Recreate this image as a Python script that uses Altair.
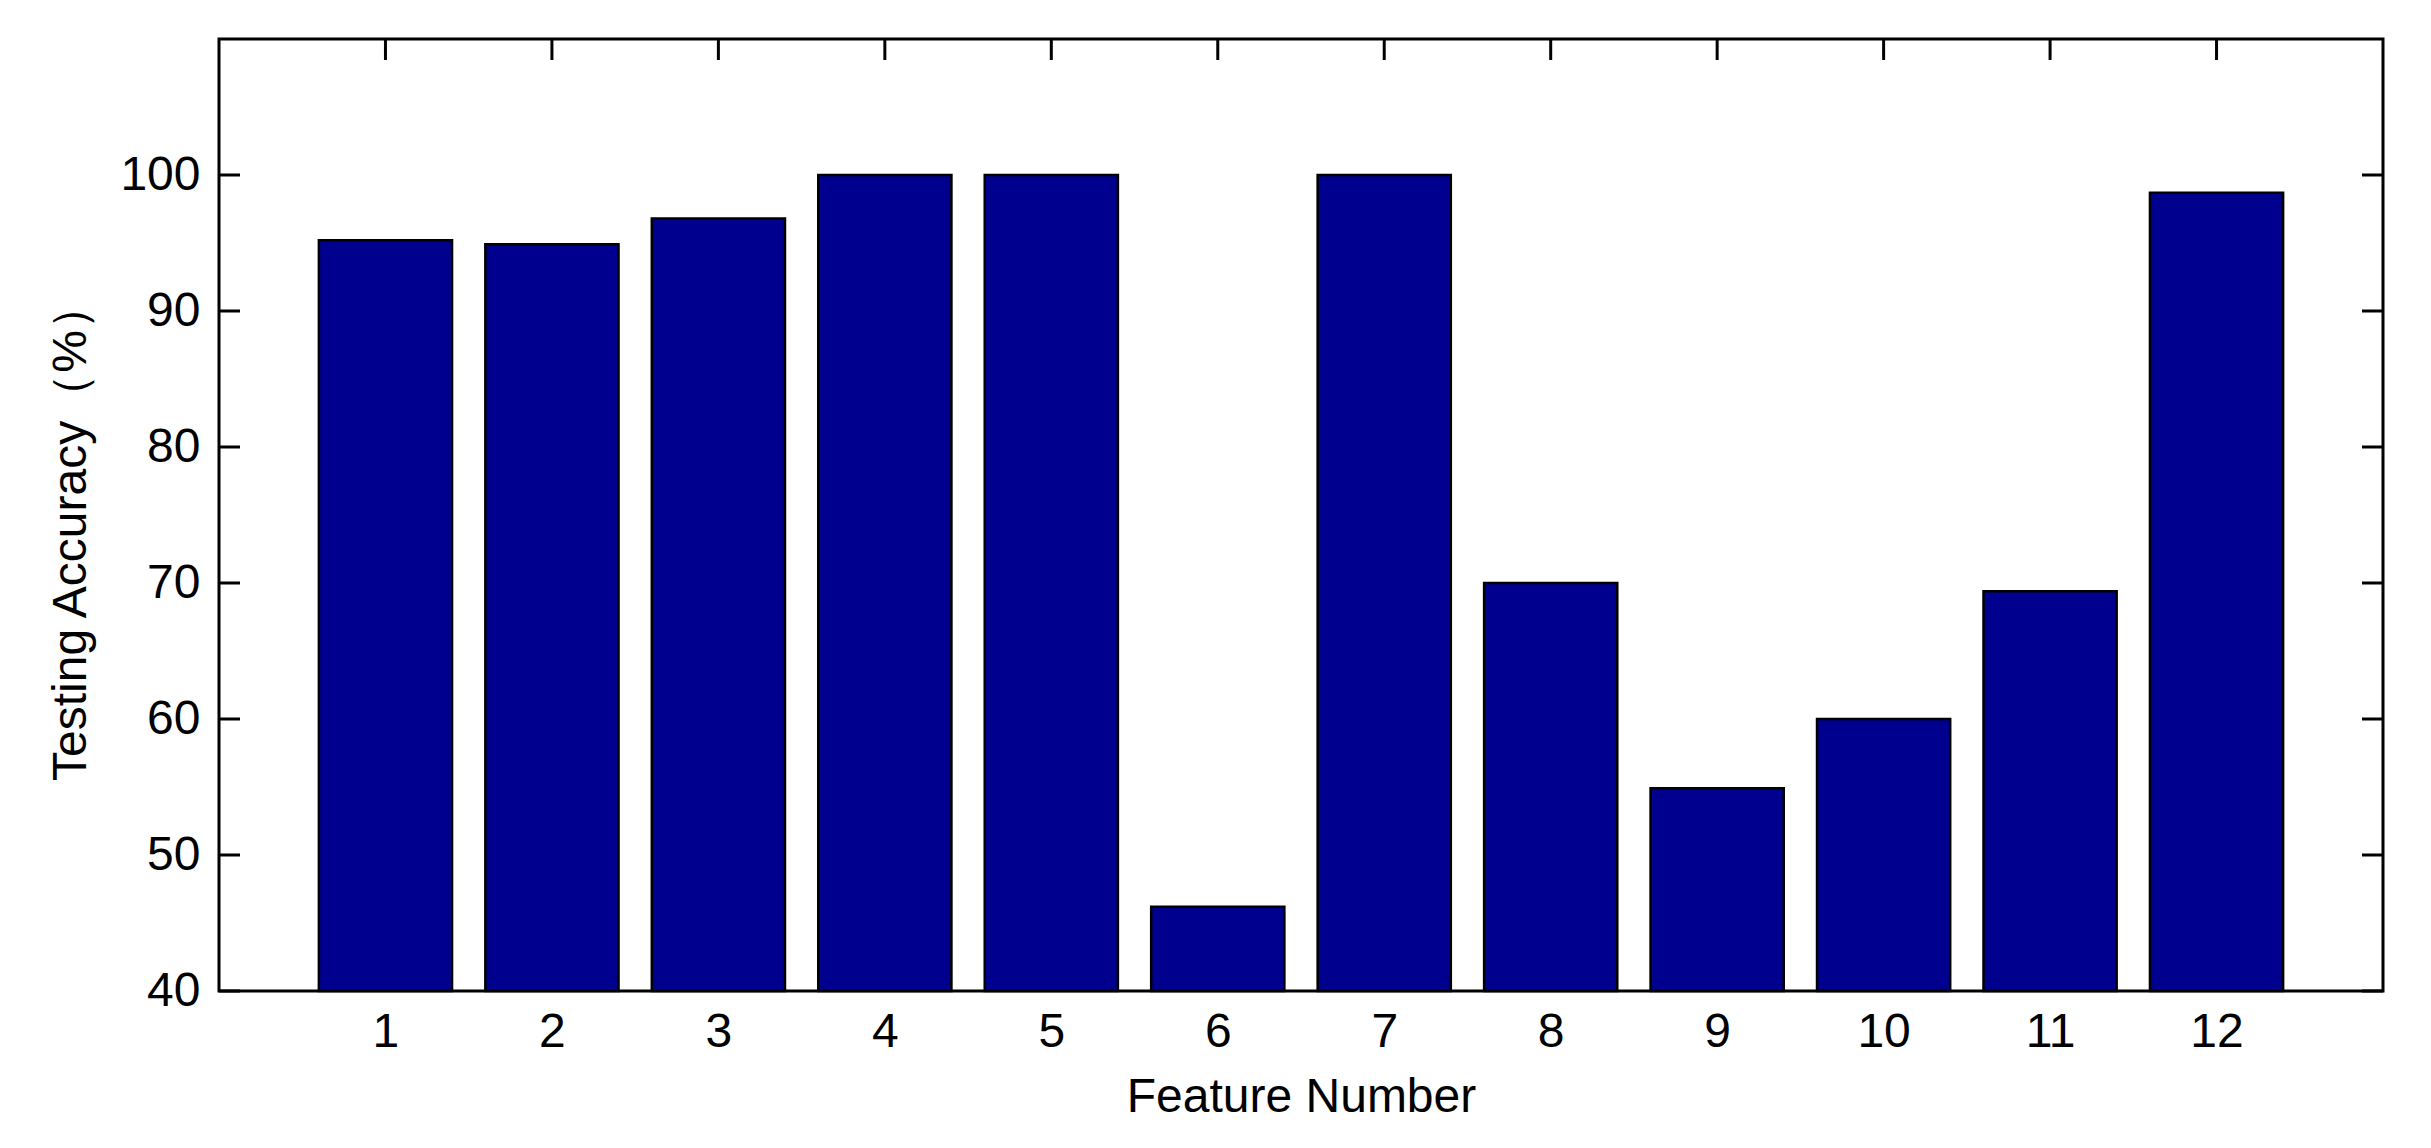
import altair as alt
import pandas as pd

# ---- data ----
features = [1, 2, 3, 4, 5, 6, 7, 8, 9, 10, 11, 12]
accuracy = [95.2, 94.9, 96.8, 100.0, 100.0, 46.2, 100.0, 70.0, 54.9, 60.0, 69.4, 98.7]
x_tick_values = [1, 2, 3, 4, 5, 6, 7, 8, 9, 10, 11, 12]
y_tick_values = [40, 50, 60, 70, 80, 90, 100]
x_domain = [0, 13]
y_domain = [40, 110]
x_title = "Feature Number"
y_title = "Testing Accuracy（%）"

# ---- styling ----
W, H = 2164, 952
FONT = "Liberation Sans"
FS = 48
BAR_COLOR = "#00008F"
TICK_LEN = 21
TICK_W = 3
HALF_BAR = 0.4

bars_df = pd.DataFrame({"feature": features, "accuracy": accuracy})
xt_df = pd.DataFrame({"feature": x_tick_values})
yt_df = pd.DataFrame({"accuracy": y_tick_values})

x_scale = alt.Scale(domain=x_domain, nice=False, zero=False)
y_scale = alt.Scale(domain=y_domain, nice=False, zero=False)

x_axis = alt.Axis(
    values=x_tick_values, format="d", labelAngle=0,
    labelFont=FONT, labelFontSize=FS, labelColor="black", labelPadding=17,
    ticks=False, tickSize=0, domain=False, grid=False,
    title=x_title, titleFont=FONT, titleFontSize=FS, titleFontWeight="normal",
    titleColor="black", titleBaseline="alphabetic", titleY=120,
)
y_axis = alt.Axis(
    values=y_tick_values, format="d",
    labelFont=FONT, labelFontSize=FS, labelColor="black", labelPadding=19,
    ticks=False, tickSize=0, domain=False, grid=False,
    title=y_title, titleFont=FONT, titleFontSize=FS, titleFontWeight="normal",
    titleColor="black", titleBaseline="alphabetic", titleX=-134, titleY=492,
)

# inward tick marks on all four sides (drawn beneath the bars)
top_ticks = alt.Chart(xt_df).mark_rule(color="black", strokeWidth=TICK_W).encode(
    x=alt.X("feature:Q", scale=x_scale),
    y=alt.value(0), y2=alt.value(TICK_LEN),
)
bottom_ticks = alt.Chart(xt_df).mark_rule(color="black", strokeWidth=TICK_W).encode(
    x=alt.X("feature:Q", scale=x_scale),
    y=alt.value(H), y2=alt.value(H - TICK_LEN),
)
left_ticks = alt.Chart(yt_df).mark_rule(color="black", strokeWidth=TICK_W).encode(
    y=alt.Y("accuracy:Q", scale=y_scale),
    x=alt.value(0), x2=alt.value(TICK_LEN),
)
right_ticks = alt.Chart(yt_df).mark_rule(color="black", strokeWidth=TICK_W).encode(
    y=alt.Y("accuracy:Q", scale=y_scale),
    x=alt.value(W), x2=alt.value(W - TICK_LEN),
)

bars = alt.Chart(bars_df).transform_calculate(
    x0=f"datum.feature - {HALF_BAR}", x1=f"datum.feature + {HALF_BAR}"
).mark_bar(color=BAR_COLOR, stroke="black", strokeWidth=2.5).encode(
    x=alt.X("x0:Q", scale=x_scale, axis=x_axis, title=x_title),
    x2="x1:Q",
    y=alt.Y("accuracy:Q", scale=y_scale, axis=y_axis, title=y_title),
    y2=alt.datum(y_domain[0]),
)

chart = alt.layer(bars, top_ticks, bottom_ticks, left_ticks, right_ticks).properties(
    width=W, height=H,
    autosize=alt.AutoSizeParams(type="none"),
    padding={"left": 211, "top": 31, "right": 30, "bottom": 140},
    background="white",
).configure_view(stroke="black", strokeWidth=3)

# put the bars on top of the tick marks while keeping axis definitions on the bar layer
chart.layer = [chart.layer[1], chart.layer[2], chart.layer[3], chart.layer[4], chart.layer[0]]

chart.save("out.html", embed_options={"renderer": "svg", "actions": False})
